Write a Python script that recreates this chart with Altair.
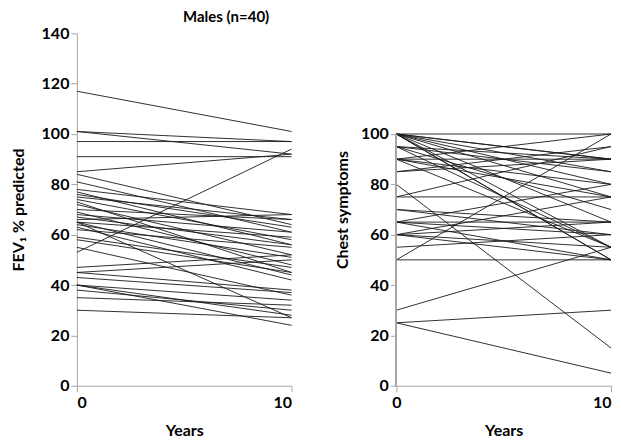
import altair as alt
import pandas as pd

# FEV1 % predicted, males (n=40): value at year 0 and year 10
fev_start = [117, 101, 101, 97, 91, 85, 53, 84, 81, 78, 77, 76, 75, 74, 73, 72, 70, 69, 68, 67,
             65, 65, 64, 63, 62, 65, 59, 55, 47, 45, 45, 43, 40, 40, 40, 38, 35, 30, 58, 66]
fev_end = [101, 97, 92, 97, 91, 92, 94, 64, 61, 68, 56, 63, 66, 58, 45, 52, 66, 48, 61, 56,
           44, 59, 51, 42, 55, 27, 47, 36, 52, 50, 38, 37, 34, 28, 24, 30, 32, 27, 45, 68]

# Chest symptoms score: value at year 0 and year 10
chest_start = [100, 100, 100, 100, 100, 100, 100, 100, 100, 100, 95, 95, 95, 95, 90, 90, 90, 90, 90, 85,
               85, 80, 75, 75, 70, 70, 65, 65, 65, 65, 60, 60, 60, 60, 55, 50, 50, 30, 25, 25]
chest_end = [100, 90, 90, 85, 75, 65, 55, 50, 50, 80, 90, 85, 70, 55, 100, 90, 80, 75, 55, 95,
             90, 15, 75, 95, 60, 65, 65, 60, 50, 80, 55, 75, 65, 50, 60, 50, 100, 55, 30, 5]

years = [0, 10]
fev_ticks = [0, 20, 40, 60, 80, 100, 120, 140]
chest_ticks = [0, 20, 40, 60, 80, 100]


def to_long(start, end):
    rows = []
    for i, (s, e) in enumerate(zip(start, end)):
        rows.append({"id": i, "year": years[0], "value": s})
        rows.append({"id": i, "year": years[1], "value": e})
    return pd.DataFrame(rows)


df_fev = to_long(fev_start, fev_end)
df_chest = to_long(chest_start, chest_end)

FONT = "Lato"
GRAY = "#a6a6a6"
LINE = "#1a1a1a"


def x_enc(last_right=False):
    kw = dict(values=years, title="Years", grid=False, labelPadding=3, titlePadding=12)
    if last_right:
        kw["labelAlign"] = {"condition": {"test": "datum.value == 10", "value": "right"},
                            "value": "center"}
    return alt.X("year:Q", scale=alt.Scale(domain=[0, 10], nice=False), axis=alt.Axis(**kw))


left = alt.Chart(df_fev).mark_line(color=LINE, strokeWidth=0.9).encode(
    x=x_enc(),
    y=alt.Y("value:Q", scale=alt.Scale(domain=[0, 140], nice=False),
            axis=alt.Axis(values=fev_ticks, title="FEV\u2081 % predicted", grid=False,
                          titlePadding=10, minExtent=40, maxExtent=40)),
    detail="id:N",
).properties(
    width=215, height=353,
    title=alt.TitleParams("Males (n=40)", dx=42, fontSize=15, font=FONT,
                          fontWeight="bold", anchor="middle", offset=0, color="black"),
)

chest_lines = alt.Chart(df_chest).mark_line(color=LINE, strokeWidth=0.9).encode(
    x=x_enc(last_right=True),
    y=alt.Y("value:Q", scale=alt.Scale(domain=[0, 140], nice=False),
            axis=alt.Axis(values=chest_ticks, title="Chest symptoms", grid=False,
                          domain=False, titlePadding=8, minExtent=38, maxExtent=38)),
    detail="id:N",
)

chest_axis = alt.Chart(df_chest).mark_rule(color=GRAY, strokeWidth=1).encode(
    x=alt.datum(0), y=alt.datum(0), y2=alt.datum(100)
)

right = alt.layer(chest_lines, chest_axis).properties(width=215, height=353)

chart = alt.hconcat(left, right, spacing=41).configure_view(
    stroke=None
).configure_axis(
    labelFont=FONT, labelFontWeight="bold", labelFontSize=16, labelColor="black",
    titleFont=FONT, titleFontWeight="bold", titleFontSize=16, titleColor="black",
    domainColor=GRAY, tickColor=GRAY, tickSize=6,
).properties(padding={"left": 3, "top": 2, "right": 0, "bottom": 0})

chart.save("out.html", embed_options={"renderer": "svg", "actions": False})
